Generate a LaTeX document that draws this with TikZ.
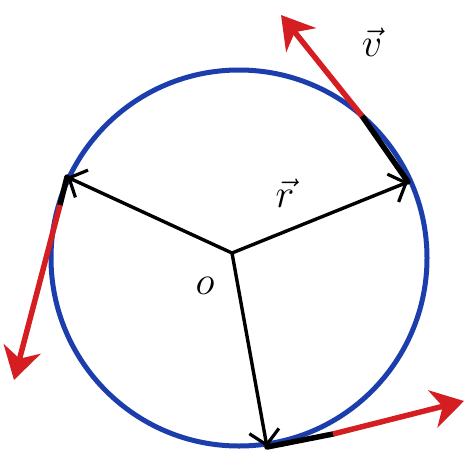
\RequirePackage{fix-cm}
\documentclass[tikz,border=0pt]{standalone}
\usetikzlibrary{arrows.meta}
\definecolor{circblue}{RGB}{28,62,172}
\definecolor{vred}{RGB}{212,30,34}
\begin{document}
\begin{tikzpicture}[x=1pt,y=-1pt,
  radiusarrow/.style={black, line width=3.4pt, -{Straight Barb[length=14pt,width=30pt,line width=3.2pt]}},
  velarrow/.style={vred, line width=5.5pt, -{Stealth[length=32pt,width=38pt,inset=10pt]}},
  blackpart/.style={black, line width=5.5pt, line cap=round},
  lab/.style={font=\fontsize{40}{44}\selectfont}]
\fill[white] (0,0) rectangle (465,450);
\useasboundingbox (0,0) rectangle (465,450);
\node[circle, draw=circblue, line width=5pt, minimum size=376pt, inner sep=0pt] (circ) at (239,258) {};
\coordinate (O) at (232,253);
\coordinate (A) at (67,177);
\coordinate (B) at (408,182);
\coordinate (C) at (267,447);
% tangent velocity arrows
\coordinate (Bm) at (362,116);
\coordinate (Bt) at (281,15);
\coordinate (Am) at (60,205);
\coordinate (At) at (14,380);
\coordinate (Cm) at (333,434);
\coordinate (Ct) at (464,401);
\draw[blackpart] (B) -- (Bm);
\draw[velarrow] (Bm) -- (Bt);
\draw[blackpart] (A) -- (Am);
\draw[velarrow] (Am) -- (At);
\draw[blackpart] (C) -- (Cm);
\draw[velarrow] (Cm) -- (Ct);
% radius vectors
\draw[radiusarrow] (O) -- (A);
\draw[radiusarrow] (O) -- (B);
\draw[radiusarrow] (O) -- (C);
% labels
\node[lab] (lo) at (205,286) {$o$};
\node[lab] (lr) at (285,193) {$\vec{r}$};
\node[lab] (lv) at (372,42) {$\vec{v}$};
\end{tikzpicture}
\end{document}
